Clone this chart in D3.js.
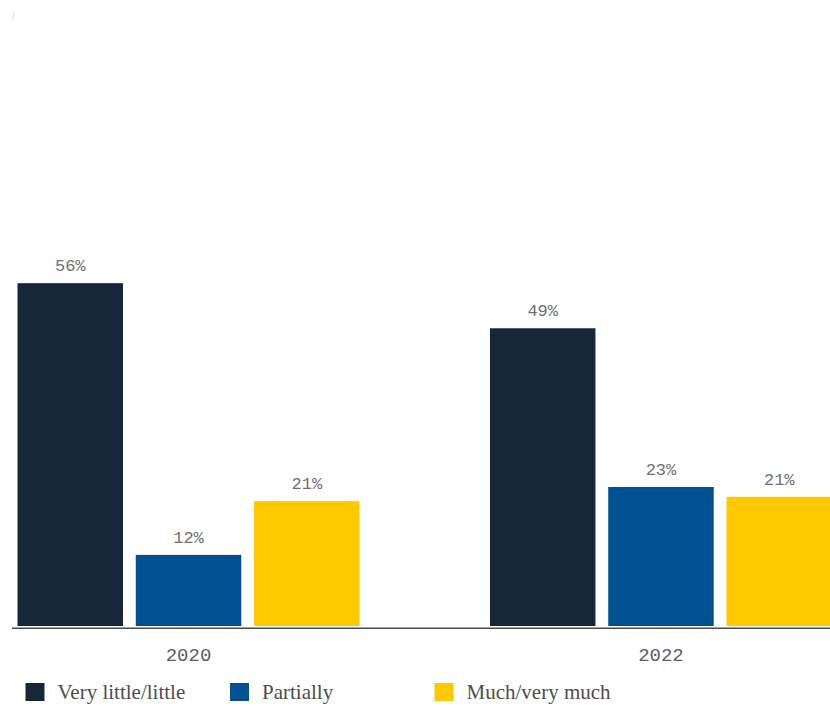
<!DOCTYPE html>
<html>
<head>
<meta charset="utf-8">
<script src="https://cdn.jsdelivr.net/npm/d3@7"></script>
<style>
  html, body { margin: 0; padding: 0; background: #fff; }
  svg { display: block; }
</style>
</head>
<body>
<svg id="chart" width="830" height="712"></svg>
<script>
// Survey years and answer categories
const years = ["2020", "2022"];
const categories = ["Very little/little", "Partially", "Much/very much"];
// Share of respondents (%) per category, one array per year
const values2020 = [56, 12, 20.7];
const values2022 = [48.7, 23, 21.4];
const colors = ["#172639", "#005192", "#ffc900"];

const seriesByYear = { "2020": values2020, "2022": values2022 };

const svg = d3.select("#chart");
const W = 830, H = 712;

const x0 = d3.scaleBand().domain(years).range([17.5, 832]).paddingInner(0.276).paddingOuter(0);
const x1 = d3.scaleBand().domain(categories).range([0, x0.bandwidth()]).paddingInner(0.108);
const y = d3.scaleLinear().domain([0, 100]).range([629, 11.5]);
const color = d3.scaleOrdinal().domain(categories).range(colors);
const fmt = v => d3.format(".0f")(v) + "%";

// tiny mark at top-left
svg.append("text").attr("x", 12).attr("y", 19)
  .attr("font-family", "DejaVu Sans").attr("font-size", 8)
  .attr("fill", "#c8c8c8").text("/");

const groups = svg.selectAll("g.year").data(years).join("g")
  .attr("class", "year")
  .attr("transform", d => `translate(${x0(d)},0)`);

const cells = groups.selectAll("g.bar")
  .data(yr => categories.map((c, i) => ({ year: yr, cat: c, value: seriesByYear[yr][i] })))
  .join("g").attr("class", "bar");

cells.append("rect")
  .attr("x", d => x1(d.cat))
  .attr("y", d => y(d.value))
  .attr("width", x1.bandwidth())
  .attr("height", d => y(0) - 3 - y(d.value))
  .attr("fill", d => color(d.cat));

cells.append("text")
  .attr("x", d => x1(d.cat) + x1.bandwidth() / 2)
  .attr("y", d => y(d.value) - 12)
  .attr("text-anchor", "middle")
  .attr("font-family", "Liberation Mono")
  .attr("font-size", 17)
  .attr("fill", "#707070")
  .text(d => fmt(d.value));

// baseline
svg.append("line")
  .attr("x1", 12).attr("x2", W)
  .attr("y1", 628.3).attr("y2", 628.3)
  .attr("stroke", "#4a4a4a").attr("stroke-width", 1.6);

// year labels
svg.selectAll("text.yr").data(years).join("text")
  .attr("class", "yr")
  .attr("x", d => x0(d) + x0.bandwidth() / 2)
  .attr("y", 661)
  .attr("text-anchor", "middle")
  .attr("font-family", "Liberation Mono")
  .attr("font-size", 19)
  .attr("fill", "#5e5e5e")
  .text(d => d);

// legend
const legendX = d3.scalePoint().domain(categories).range([25.5, 434.5]);
const leg = svg.selectAll("g.leg").data(categories).join("g")
  .attr("class", "leg")
  .attr("transform", d => `translate(${legendX(d)},683)`);
leg.append("rect").attr("width", 19).attr("height", 18).attr("fill", d => color(d));
leg.append("text")
  .attr("x", 32).attr("y", 16)
  .attr("font-family", "Liberation Serif")
  .attr("font-size", 21)
  .attr("fill", "#4d4d4d")
  .text(d => d);
</script>
</body>
</html>
